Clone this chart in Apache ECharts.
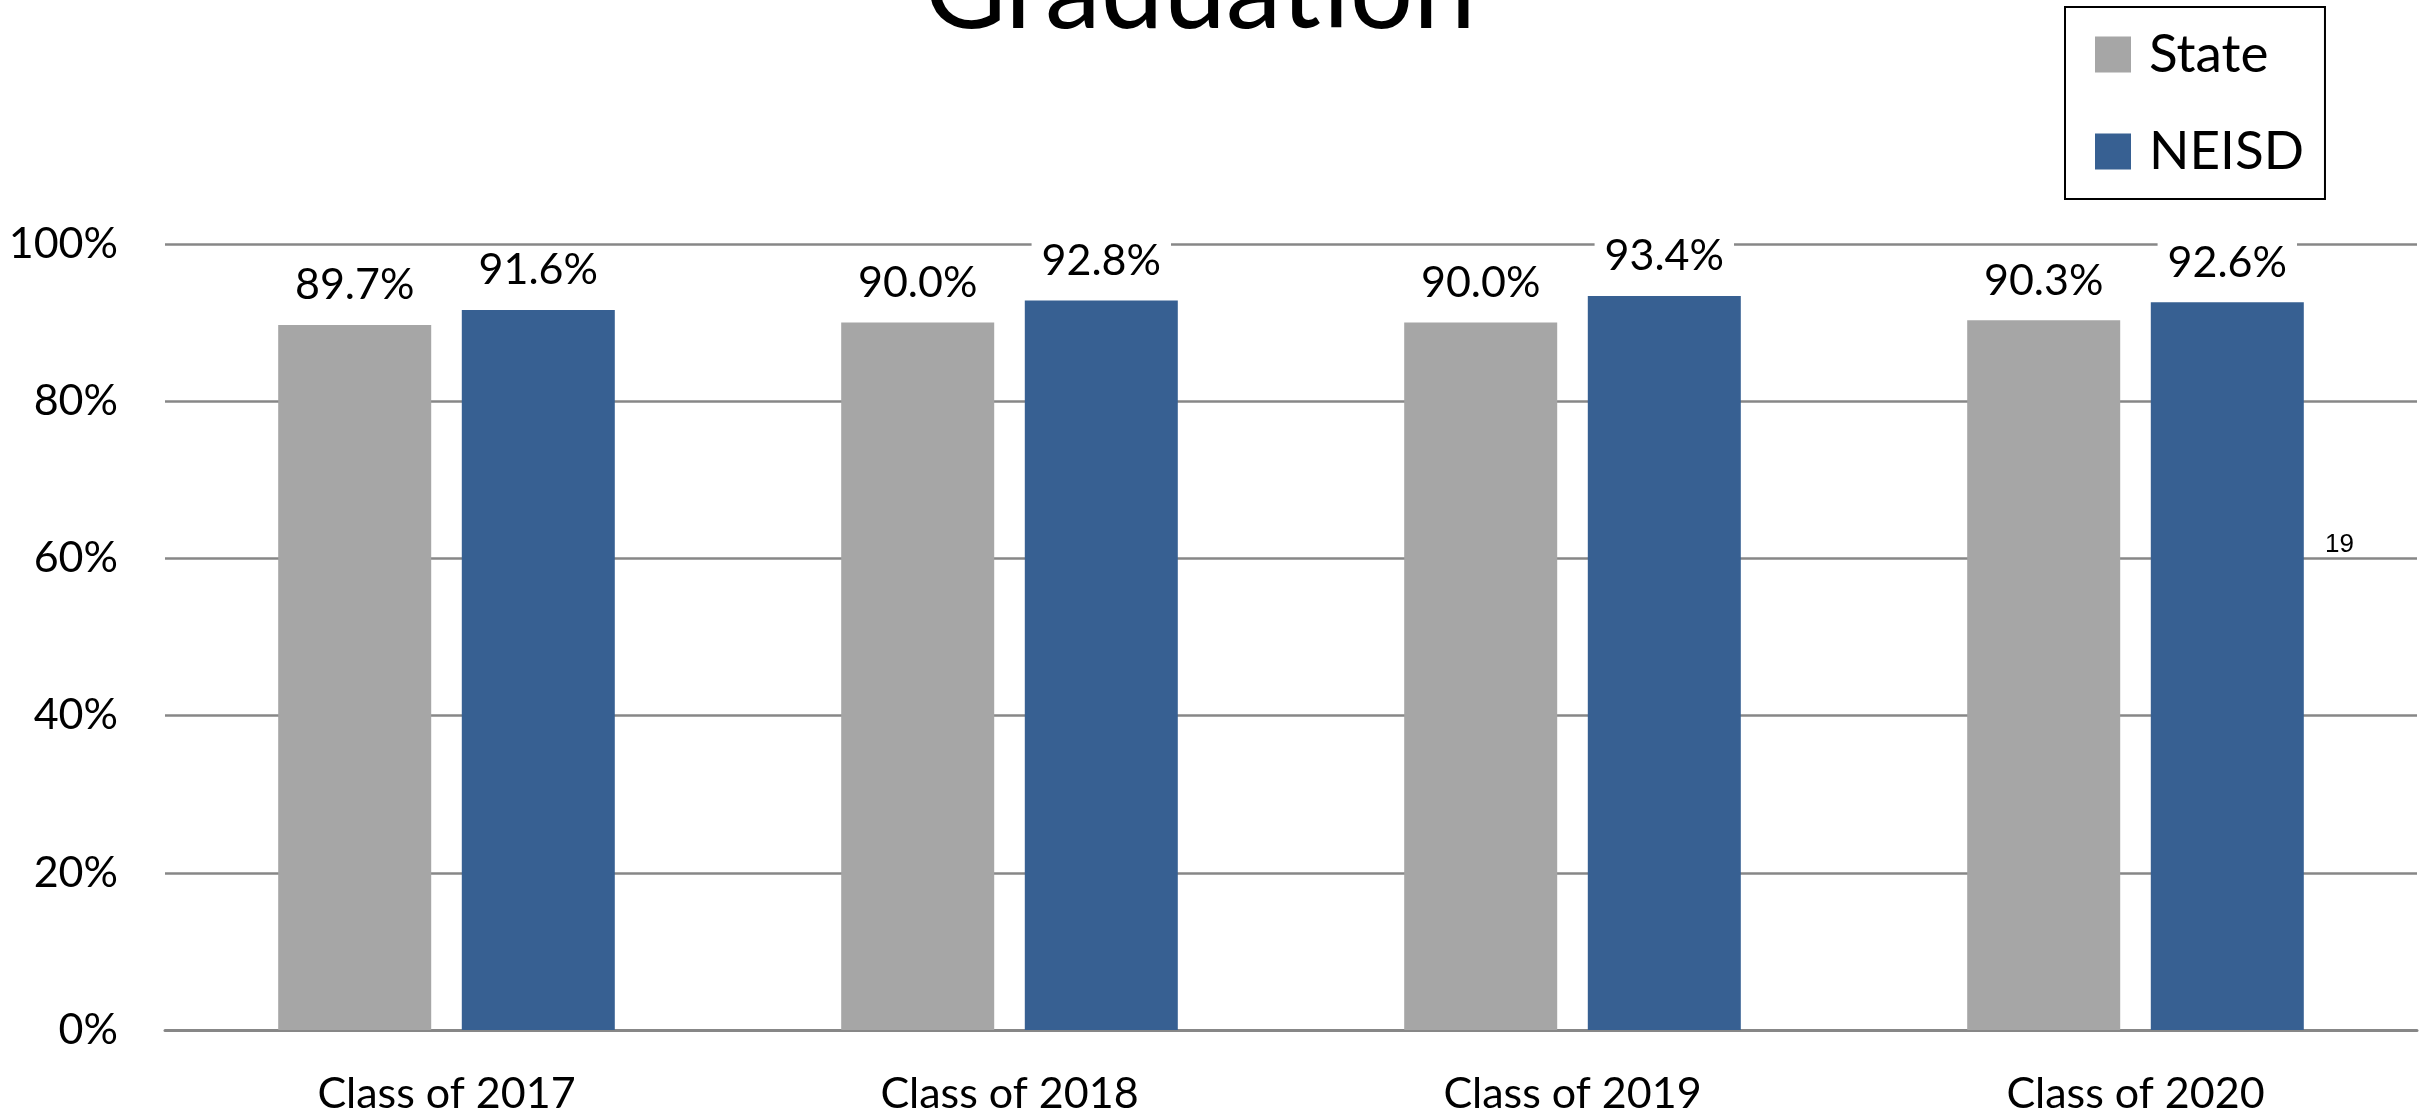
<!DOCTYPE html>
<html>
  <head>
    <meta charset="utf-8" />
    <title>Graduation</title>
    <style>
      html, body { margin: 0; padding: 0; background: #fff; }
      #main { width: 2425px; height: 1116px; }
    </style>
  </head>
  <body>
    <script src="https://cdn.jsdelivr.net/npm/echarts@6/dist/echarts.min.js"></script>
    <div id="main"></div>
    <script>
      var categories = ["Class of 2017", "Class of 2018", "Class of 2019", "Class of 2020"];
      var stateValues = [89.7, 90.0, 90.0, 90.3];
      var neisdValues = [91.6, 92.8, 93.4, 92.6];
      var yTicks = [0, 20, 40, 60, 80, 100];

      var FONT = "Lato";
      var chart = echarts.init(document.getElementById("main"));

      var labelStyle = {
        show: true,
        position: "top",
        distance: 16,
        fontFamily: FONT,
        fontSize: 43,
        color: "#000",
        backgroundColor: "#fff",
        padding: [2, 10, 2, 10],
        formatter: function (p) { return p.value.toFixed(1) + "%"; }
      };

      var option = {
        animation: false,
        backgroundColor: "#fff",
        textStyle: { fontFamily: FONT },
        grid: { left: 165, right: 8, top: 244, bottom: 84 },
        legend: {
          orient: "vertical",
          left: 2065,
          top: 7,
          data: ["State", "NEISD"],
          icon: "rect",
          itemWidth: 36,
          itemHeight: 36,
          itemGap: 44,
          borderColor: "#000",
          borderWidth: 2,
          padding: [21, 21, 21, 30],
          textStyle: {
            fontFamily: FONT,
            fontSize: 53,
            lineHeight: 53,
            color: "#000",
            padding: [0, 0, 0, 13]
          }
        },
        xAxis: {
          type: "category",
          data: categories,
          axisTick: { show: false },
          axisLine: { lineStyle: { color: "#878787", width: 3 } },
          axisLabel: { fontFamily: FONT, fontSize: 43, color: "#000", margin: 43 }
        },
        yAxis: {
          type: "value",
          min: yTicks[0],
          max: yTicks[yTicks.length - 1],
          interval: 20,
          axisLine: { show: false },
          axisTick: { show: false },
          splitLine: { lineStyle: { color: "#878787", width: 2.5 } },
          axisLabel: {
            fontFamily: FONT,
            fontSize: 43,
            color: "#000",
            margin: 47,
            formatter: "{value}%"
          }
        },
        series: [
          {
            name: "State",
            type: "bar",
            data: stateValues,
            barWidth: 153,
            barGap: "20%",
            itemStyle: { color: "#A6A6A6" },
            label: labelStyle
          },
          {
            name: "NEISD",
            type: "bar",
            data: neisdValues,
            barWidth: 153,
            itemStyle: { color: "#376092" },
            label: labelStyle
          }
        ],
        graphic: [
          {
            type: "text",
            x: 1200,
            y: -8,
            style: {
              text: "Graduation",
              font: "112px Lato",
              fill: "#000",
              align: "center",
              verticalAlign: "middle"
            }
          },
          {
            type: "text",
            x: 2325,
            y: 545,
            style: {
              text: "19",
              font: "26px 'Liberation Sans'",
              fill: "#000",
              align: "left",
              verticalAlign: "middle"
            }
          }
        ]
      };

      chart.setOption(option);
    </script>
  </body>
</html>
